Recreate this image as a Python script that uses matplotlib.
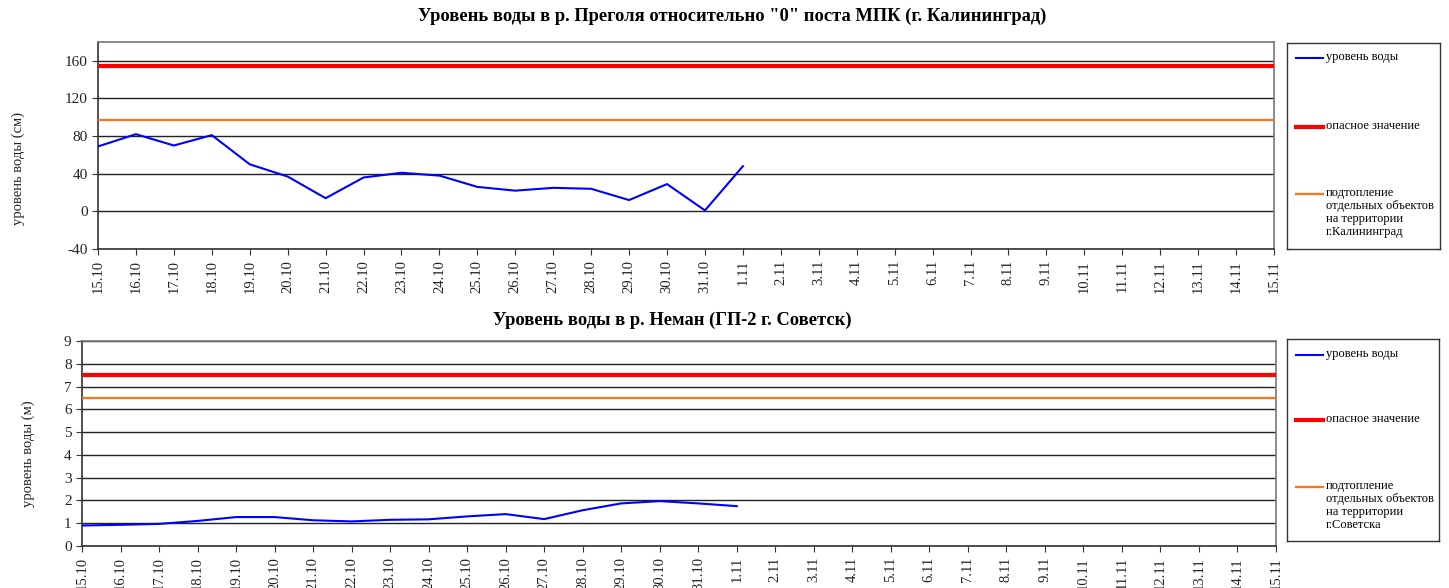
import matplotlib
matplotlib.use("Agg")
import matplotlib.pyplot as plt
from matplotlib.lines import Line2D

plt.rcParams["font.family"] = ["Liberation Serif", "DejaVu Serif"]
plt.rcParams["axes.unicode_minus"] = False

# dates on the x axis, 15.10 .. 15.11
dates = [f"{d}.10" for d in range(15, 32)] + [f"{d}.11" for d in range(1, 16)]

# Pregolya, Kaliningrad (cm)
pregolya_level = [69, 82, 70, 81, 50, 37, 14, 36, 41, 38, 26, 22, 25, 24, 12, 29, 1, 48]
pregolya_danger = 155
pregolya_flood = 97

# Neman, Sovetsk (m)
neman_level = [0.90, 0.93, 0.97, 1.10, 1.27, 1.27, 1.13, 1.08, 1.15, 1.17, 1.30,
               1.40, 1.18, 1.57, 1.87, 1.97, 1.87, 1.75]
neman_danger = 7.5
neman_flood = 6.5

W, H = 1449, 588
fig = plt.figure(figsize=(W / 100, H / 100), dpi=100)


def px_box(left, top, right, bottom):
    return [left / W, 1 - bottom / H, (right - left) / W, (bottom - top) / H]


def draw_panel(box, level, danger, flood, ylim, yticks):
    ax = fig.add_axes(px_box(*box))
    x = list(range(len(dates)))
    ax.axhline(danger, color="#ff0000", lw=3, zorder=3)
    ax.axhline(flood, color="#ff7418", lw=1.6, zorder=3)
    ax.plot(x[:len(level)], level, color="#0000ff", lw=1.5, zorder=4)
    ax.set_xlim(0, len(dates) - 1)
    ax.set_ylim(*ylim)
    ax.set_yticks(yticks)
    ax.set_xticks(x)
    ax.set_xticklabels(dates, rotation=90, fontsize=10.5, color="#222222")
    ax.tick_params(axis="y", labelsize=11, labelcolor="#222222", direction="out",
                   length=4, color="#333333")
    ax.tick_params(axis="x", direction="out", length=4, color="#333333", pad=4)
    ax.grid(axis="y", color="#222222", lw=1, zorder=1)
    for s in ax.spines.values():
        s.set_color("#777777")
        s.set_linewidth(1.2)
    ax.spines["left"].set_color("#333333")
    ax.spines["bottom"].set_color("#333333")
    return ax


def draw_legend(box, entries, ys):
    lg = fig.add_axes(px_box(*box))
    left, top, right, bottom = box
    lg.set_xlim(left, right)
    lg.set_ylim(bottom, top)
    lg.set_xticks([])
    lg.set_yticks([])
    for s in lg.spines.values():
        s.set_color("#333333")
        s.set_linewidth(1)
    for (label, color, lw), y in zip(entries, ys):
        lg.add_line(Line2D([left + 9, left + 36], [y, y], color=color, lw=lw))
        lg.text(left + 39, y - 7, label, fontsize=9, va="top", ha="left",
                linespacing=1.1)


top_ax = draw_panel((98, 42, 1274, 249), pregolya_level, pregolya_danger,
                    pregolya_flood, (-40, 180), [-40, 0, 40, 80, 120, 160])
bot_ax = draw_panel((82, 341, 1276, 546), neman_level, neman_danger,
                    neman_flood, (0, 9), list(range(10)))

draw_legend((1287, 43, 1440, 249),
            [("уровень воды", "#0000ff", 1.5),
             ("опасное значение", "#ff0000", 3),
             ("подтопление\nотдельных объектов\nна территории\nг.Калининград", "#ff7418", 1.6)],
            [58, 127, 194])
draw_legend((1287, 339, 1439, 541),
            [("уровень воды", "#0000ff", 1.5),
             ("опасное значение", "#ff0000", 3),
             ("подтопление\nотдельных объектов\nна территории\nг.Советска", "#ff7418", 1.6)],
            [355, 420, 487])

fig.text(732 / W, 1 - 16 / H, 'Уровень воды в р. Преголя относительно "0" поста МПК (г. Калининград)',
         ha="center", va="center", fontsize=13.3, fontweight="bold")
fig.text(672 / W, 1 - 320 / H, "Уровень воды в р. Неман (ГП-2 г. Советск)",
         ha="center", va="center", fontsize=13.3, fontweight="bold")
fig.text(18 / W, 1 - 169 / H, "уровень воды (см)", rotation=90,
         ha="center", va="center", fontsize=10.5, color="#222222")
fig.text(28 / W, 1 - 454 / H, "уровень воды (м)", rotation=90,
         ha="center", va="center", fontsize=10.5, color="#222222")

fig.savefig("out.png", dpi=100)
